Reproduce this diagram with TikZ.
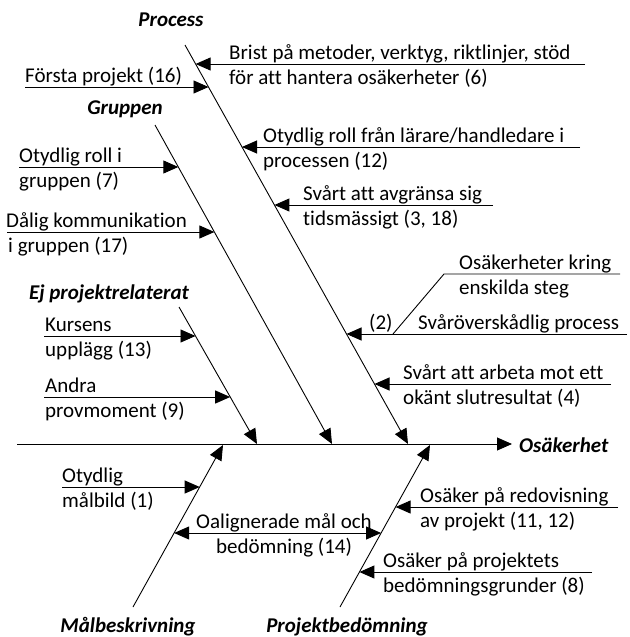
\documentclass[tikz,border=0pt]{standalone}
\usepackage{fontspec}
\setmainfont{Carlito}[Ligatures=CommonOff]
\usetikzlibrary{arrows.meta}
\tikzset{
  tri/.tip={Triangle[length=15pt,width=13pt]},
  arr/.style={-tri, line width=0.9pt},
  dbl/.style={tri-tri, line width=0.9pt},
  plain/.style={line width=0.9pt},
  lbl/.style={anchor=base west, inner sep=0pt, font=\fontsize{21}{25}\selectfont},
  lblc/.style={anchor=base, inner sep=0pt, font=\fontsize{21}{25}\selectfont},
  hdr/.style={anchor=base, inner sep=0pt, font=\fontsize{21}{25}\selectfont\bfseries\itshape},
}
\begin{document}
\begin{tikzpicture}[x=1pt,y=-1pt]
\useasboundingbox (0,0) rectangle (629,637);
% spine
\coordinate (sp0) at (17,444);
\coordinate (sp1) at (512,444);
\draw[arr] (sp0) -- (sp1);
\node[hdr, anchor=base west] (hOs) at (519,452) {Osäkerhet};
% bones
\coordinate (pT) at (185,45);  \coordinate (pB) at (408,444);
\coordinate (gT) at (155,125); \coordinate (gB) at (332,444);
\coordinate (eT) at (179,307); \coordinate (eB) at (257,444);
\coordinate (mB) at (133,607); \coordinate (mT) at (223,445);
\coordinate (jB) at (340,607); \coordinate (jT) at (430,445);
\draw[arr] (pT) -- (pB);
\draw[arr] (gT) -- (gB);
\draw[arr] (eT) -- (eB);
\draw[arr] (mB) -- (mT);
\draw[arr] (jB) -- (jT);
% headers
\node[hdr] (hP) at (171,27) {Process};
\node[hdr] (hG) at (125,114) {Gruppen};
\node[hdr] (hE) at (109,299) {Ej projektrelaterat};
\node[hdr] (hM) at (128,632) {Målbeskrivning};
\node[hdr] (hJ) at (347,632) {Projektbedömning};
% Process causes
\node[lbl] (t1a) at (229,59) {Brist på metoder, verktyg, riktlinjer, stöd};
\node[lbl] (t1b) at (229,84) {för att hantera osäkerheter (6)};
\coordinate (s1) at (585,64); \coordinate (e1) at (195.6,64);
\draw[arr] (s1) -- (e1);
\node[lbl] (t2) at (25,82) {Första projekt (16)};
\coordinate (s2) at (25,87); \coordinate (e2) at (208.5,87);
\draw[arr] (s2) -- (e2);
\node[lbl] (t3a) at (263,142) {Otydlig roll från lärare/handledare i};
\node[lbl] (t3b) at (263,167) {processen (12)};
\coordinate (s3) at (580,147); \coordinate (e3) at (242,147);
\draw[arr] (s3) -- (e3);
\node[lbl] (t4a) at (303,200) {Svårt att avgränsa sig};
\node[lbl] (t4b) at (303,225) {tidsmässigt (3, 18)};
\coordinate (s4) at (493,205); \coordinate (e4) at (274.4,205);
\draw[arr] (s4) -- (e4);
\node[lbl] (t5a) at (459,269) {Osäkerheter kring};
\node[lbl] (t5b) at (459,294) {enskilda steg};
\node[lbl] (t5c) at (418,329) {Svåröverskådlig process};
\node[lbl] (t5d) at (369,329) {(2)};
\coordinate (k1) at (620,274); \coordinate (k2) at (444,274); \coordinate (k3) at (393,334);
\draw[plain] (k1) -- (k2) -- (k3);
\coordinate (s5) at (627,334); \coordinate (e5) at (346.5,334);
\draw[arr] (s5) -- (e5);
\node[lbl] (t6a) at (403,379) {Svårt att arbeta mot ett};
\node[lbl] (t6b) at (403,404) {okänt slutresultat (4)};
\coordinate (s6) at (611,384); \coordinate (e6) at (374.5,384);
\draw[arr] (s6) -- (e6);
% Gruppen causes
\node[lbl] (t7a) at (19,162) {Otydlig roll i};
\node[lbl] (t7b) at (19,187) {gruppen (7)};
\coordinate (s7) at (19,167); \coordinate (e7) at (178.3,167);
\draw[arr] (s7) -- (e7);
\node[lbl] (t8a) at (6,227) {Dålig kommunikation};
\node[lbl] (t8b) at (8,252) {i gruppen (17)};
\coordinate (s8) at (7,232); \coordinate (e8) at (214.4,232);
\draw[arr] (s8) -- (e8);
% Ej projektrelaterat causes
\node[lbl] (t9a) at (45,331) {Kursens};
\node[lbl] (t9b) at (45,356) {upplägg (13)};
\coordinate (s9) at (44,336); \coordinate (e9) at (195.5,336);
\draw[arr] (s9) -- (e9);
\node[lbl] (t10a) at (45,392) {Andra};
\node[lbl] (t10b) at (45,417) {provmoment (9)};
\coordinate (s10) at (44,397); \coordinate (e10) at (230.2,397);
\draw[arr] (s10) -- (e10);
% Målbeskrivning causes
\node[lbl] (t11a) at (62,482) {Otydlig};
\node[lbl] (t11b) at (62,507) {målbild (1)};
\coordinate (s11) at (62,487); \coordinate (e11) at (199.7,487);
\draw[arr] (s11) -- (e11);
\node[lblc] (t12a) at (284,528) {Oalignerade mål och};
\node[lblc] (t12b) at (284,553) {bedömning (14)};
\coordinate (e12a) at (174.1,533); \coordinate (e12b) at (381.1,533);
\draw[dbl] (e12a) -- (e12b);
% Projektbedömning causes
\node[lbl] (t13a) at (420,502) {Osäker på redovisning};
\node[lbl] (t13b) at (420,527) {av projekt (11, 12)};
\coordinate (s13) at (618,507); \coordinate (e13) at (395.6,507);
\draw[arr] (s13) -- (e13);
\node[lbl] (t14a) at (383,567) {Osäker på projektets};
\node[lbl] (t14b) at (383,592) {bedömningsgrunder (8)};
\coordinate (s14) at (592,572); \coordinate (e14) at (359.4,572);
\draw[arr] (s14) -- (e14);
\end{tikzpicture}
\end{document}
